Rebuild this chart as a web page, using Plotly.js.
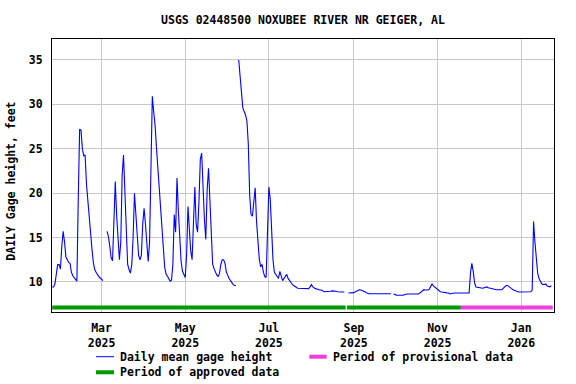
<!DOCTYPE html>
<html>
<head>
<meta charset="utf-8">
<script src="https://cdn.plot.ly/plotly-3.0.1.min.js"></script>
<style>html,body{margin:0;padding:0;background:#fff;}#chart{width:576px;height:384px;}</style>
</head>
<body>
<div id="chart"></div>
<script>
// Daily mean gage height (feet); null = missing day
const monthStarts = ['2025-01-24','2025-02-01','2025-03-01','2025-04-01','2025-05-01','2025-06-01','2025-07-01','2025-08-01','2025-09-01','2025-10-01','2025-11-01','2025-12-01','2026-01-01'];
const jan25 = [9.44,9.44,9.8,11.2,11.95,11.95,11.46,14.0];
const feb25 = [15.7,14.5,12.8,12.5,12.2,12.1,11.1,10.7,10.45,10.26,10.1,19.4,27.2,27.1,25.0,24.2,24.3,21.0,19.0,17.2,15.4,13.7,12.2,11.4,11.1,10.8,10.6,10.45];
const mar25 = [10.3,10.15,null,null,15.7,15.1,14.0,12.7,12.4,17.0,21.3,17.5,14.3,12.5,14.5,22.0,24.3,19.5,15.0,12.0,11.4,11.0,11.9,15.0,20.0,17.5,14.8,13.0,12.5,13.0,16.5];
const apr25 = [18.3,16.5,14.3,12.3,14.5,22.0,30.9,29.2,27.7,25.2,23.0,20.4,17.5,15.4,13.5,11.7,10.9,10.7,10.4,10.1,10.2,12.0,17.6,15.6,21.7,18.0,15.3,12.3,11.2,10.8];
const may25 = [10.5,13.0,18.5,16.0,13.5,12.5,17.4,20.7,16.5,15.6,19.0,23.8,24.5,20.4,17.0,14.8,20.4,22.8,18.5,14.5,12.0,11.5,11.1,10.8,10.6,11.0,12.0,12.5,12.5,12.1,11.1];
const jun25 = [10.7,10.4,10.15,9.9,9.7,9.6,9.6,null,35.0,32.8,31.0,29.6,29.2,28.8,28.1,25.5,19.8,17.6,17.4,18.9,20.6,16.8,14.4,12.6,11.7,12.0,11.1,10.6,10.5,15.5];
const jul25 = [20.7,19.3,16.0,12.5,11.1,10.85,10.6,10.4,11.2,10.5,10.15,10.4,10.6,10.85,10.4,10.15,10.0,9.75,9.6,9.45,9.4,9.3,9.3,9.25,9.25,9.25,9.25,9.25,9.25,9.25,9.45];
const aug25 = [9.7,9.45,9.3,9.25,9.2,9.13,9.1,9.1,9.05,8.9,8.9,8.9,8.9,8.9,8.95,9.0,9.0,9.0,8.95,8.9,8.87,8.87,8.87,8.87,8.87,null,null,8.76,8.76,8.76,8.76];
const sep25 = [8.8,8.9,9.0,9.1,9.13,9.1,9.05,9.0,8.9,8.8,8.72,8.68,8.68,8.68,8.68,8.68,8.68,8.68,8.68,8.68,8.68,8.68,8.68,8.68,8.68,8.68,8.68,8.68,null,8.6];
const oct25 = [8.6,8.5,8.5,8.5,8.5,8.5,8.5,8.6,8.65,8.65,8.65,8.65,8.65,8.65,8.65,8.65,8.65,8.65,8.75,8.9,9.05,9.13,9.1,9.1,9.1,9.2,9.6,9.8,9.55,9.4,9.25];
const nov25 = [9.1,9.0,8.9,8.87,8.87,8.85,8.8,8.76,8.76,8.65,8.7,8.76,8.76,8.76,8.76,8.76,8.76,8.76,8.76,8.76,8.76,8.76,8.76,8.76,11.0,12.1,11.2,9.9,9.44,9.4];
const dec25 = [9.35,9.35,9.35,9.3,9.35,9.4,9.44,9.35,9.3,9.25,9.2,9.15,9.13,9.13,9.13,9.13,9.13,9.13,9.3,9.45,9.6,9.6,9.45,9.3,9.25,9.13,9.05,9.0,8.95,8.87,8.87];
const jan26 = [8.87,8.87,8.87,8.87,8.87,8.87,8.87,8.9,9.1,16.8,14.5,12.3,11.0,10.4,10.1,9.8,9.7,9.75,9.75,9.55,9.45,9.45,9.6];

// Data-approval periods
const approvedStarts = ['2025-01-24','2025-08-27'];
const approvedEnds   = ['2025-08-26','2025-11-18'];
const provisionalStarts = ['2025-11-18'];
const provisionalEnds   = ['2026-01-24'];
const barLevel = 7.13;

const yTicks = [10,15,20,25,30,35];

function fmt(d){return d.toISOString().slice(0,10);}
const monthly = [jan25,feb25,mar25,apr25,may25,jun25,jul25,aug25,sep25,oct25,nov25,dec25,jan26];
const xs = [], ys = [];
monthly.forEach((arr,i)=>{
  const base = new Date(monthStarts[i]+'T00:00:00Z');
  arr.forEach((v,k)=>{
    const d = new Date(base.getTime()+k*86400000);
    xs.push(fmt(d)); ys.push(v);
  });
});

const traces = [];
approvedStarts.forEach((s,i)=>{
  traces.push({x:[s,approvedEnds[i]], y:[barLevel,barLevel], mode:'lines', line:{color:'#009900',width:4}, showlegend:false, hoverinfo:'skip'});
});
provisionalStarts.forEach((s,i)=>{
  traces.push({x:[s,provisionalEnds[i]], y:[barLevel,barLevel], mode:'lines', line:{color:'#ee40dd',width:4}, showlegend:false, hoverinfo:'skip'});
});
traces.push({x:xs, y:ys, mode:'lines', line:{color:'#0000ff',width:1.1}, connectgaps:false, showlegend:false, name:'Daily mean gage height'});

const F = {family:'DejaVu Sans Mono', size:11.5, color:'#000', weight:'bold'};
const L = 52, R = 554, T = 39, B = 312;
const W = R-L, H = B-T;
const px = X => (X-L)/W;
const py = Y => (B-Y)/H;

const layout = {
  width:576, height:384,
  margin:{l:L, r:576-R, t:T, b:384-B, pad:0},
  paper_bgcolor:'#fff', plot_bgcolor:'#fff',
  font:F,
  title:{text:'USGS 02448500 NOXUBEE RIVER NR GEIGER, AL', font:F, x:0.5, xref:'paper', xanchor:'center', y:1-20/384, yref:'container', yanchor:'middle'},
  xaxis:{type:'date', range:['2025-01-23 20:30','2026-01-24 21:40'], tick0:'2025-01-01', dtick:'M2', tickformat:'%b<br>%Y',
    showgrid:true, gridcolor:'#c8c8c8', gridwidth:1, showline:true, mirror:true, linecolor:'#000', linewidth:1,
    ticks:'', ticklabelstandoff:5, tickfont:F, zeroline:false},
  yaxis:{range:[6.62,37.36], tickvals:yTicks, ticktext:yTicks.map(String), showgrid:true, gridcolor:'#c8c8c8', gridwidth:1,
    showline:true, mirror:true, linecolor:'#000', linewidth:1, ticks:'', ticklabelstandoff:6, tickfont:F, zeroline:false},
  shapes:[
    {type:'line', xref:'paper', yref:'paper', x0:px(96), x1:px(114), y0:py(356.7), y1:py(356.7), line:{color:'#0000ff', width:1}},
    {type:'line', xref:'paper', yref:'paper', x0:px(309.3), x1:px(326.7), y0:py(356.7), y1:py(356.7), line:{color:'#ee40dd', width:4}},
    {type:'line', xref:'paper', yref:'paper', x0:px(96), x1:px(114), y0:py(372.3), y1:py(372.3), line:{color:'#009900', width:4}}
  ],
  annotations:[
    {text:'Daily mean gage height', xref:'paper', yref:'paper', x:px(118), y:py(356.7), xanchor:'left', yanchor:'middle', showarrow:false, font:F},
    {text:'Period of provisional data', xref:'paper', yref:'paper', x:px(330.7), y:py(356.7), xanchor:'left', yanchor:'middle', showarrow:false, font:F},
    {text:'Period of approved data', xref:'paper', yref:'paper', x:px(118), y:py(372.3), xanchor:'left', yanchor:'middle', showarrow:false, font:F},
    {text:'DAILY Gage height, feet', xref:'paper', yref:'paper', x:px(11), y:py(181.7), xanchor:'center', yanchor:'middle', textangle:-90, showarrow:false, font:F}
  ]
};

Plotly.newPlot('chart', traces, layout, {staticPlot:true, displayModeBar:false});
</script>
</body>
</html>
